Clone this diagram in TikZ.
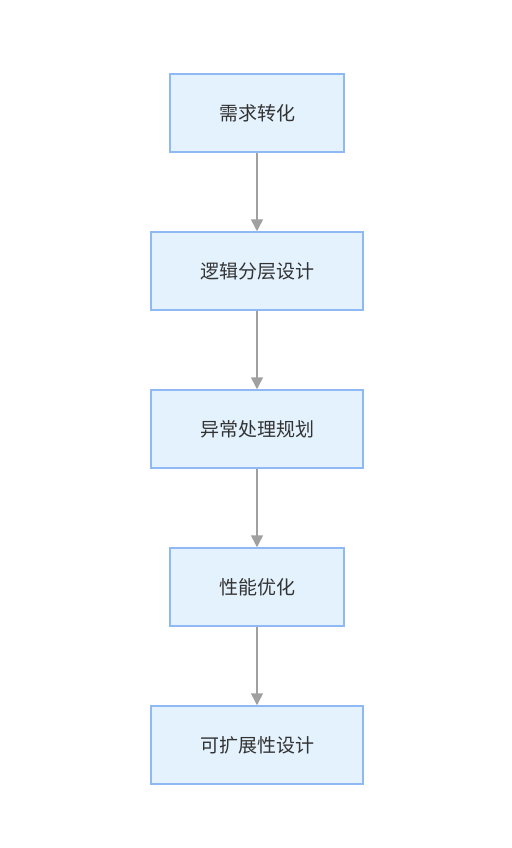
\documentclass[tikz,border=0pt]{standalone}
\usepackage{fontspec}
\newfontfamily\cjk{Noto Sans CJK SC}
\usetikzlibrary{arrows.meta}
\definecolor{boxfill}{HTML}{E3F2FD}
\definecolor{boxdraw}{HTML}{8EB9F5}
\definecolor{arrowc}{HTML}{A0A0A0}
\definecolor{textc}{HTML}{333333}
\tikzset{
  stepbox/.style={draw=boxdraw, fill=boxfill, line width=1.5pt, minimum height=78pt,
    text=textc, font=\cjk\fontsize{19}{22}\selectfont, inner sep=0pt},
  flow/.style={draw=arrowc, line width=1.5pt, -{Triangle[width=12pt,length=12pt]}}
}
\begin{document}
\begin{tikzpicture}[x=1pt,y=-1pt]
\useasboundingbox[fill=white] (0,0) rectangle (511,848);
\node[stepbox, minimum width=174pt] (a) at (257,113) {需求转化};
\node[stepbox, minimum width=212pt] (b) at (257,271) {逻辑分层设计};
\node[stepbox, minimum width=212pt] (c) at (257,429) {异常处理规划};
\node[stepbox, minimum width=174pt] (d) at (257,587) {性能优化};
\node[stepbox, minimum width=212pt] (e) at (257,745) {可扩展性设计};
\draw[flow] (a) -- (b);
\draw[flow] (b) -- (c);
\draw[flow] (c) -- (d);
\draw[flow] (d) -- (e);
\end{tikzpicture}
\end{document}
